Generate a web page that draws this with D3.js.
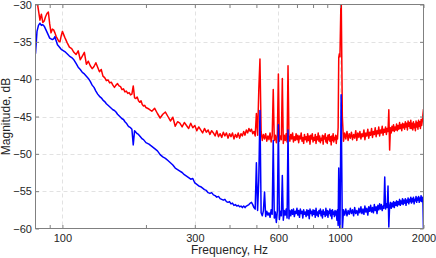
<!DOCTYPE html>
<html>
<head>
<meta charset="utf-8">
<script src="https://cdn.jsdelivr.net/npm/d3@7"></script>
<style>
    body { margin: 0; background: #fff; }
    svg { display: block; font-family: "Liberation Sans", Arial, Helvetica, sans-serif; }
</style>
</head>
<body>
<svg class="chart" width="436" height="258"></svg>
<script>
// frequency bins, Hz
let freqHz = [
    80, 81, 82, 83, 84, 85, 86, 87, 88, 89, 90, 91, 92, 93, 94, 95, 96, 97, 98, 99, 100,
    102, 104, 106, 108, 110, 112, 114, 116, 118, 120, 122, 124, 126, 128, 130, 132, 134, 136, 138, 140,
    142, 144, 146, 148, 150, 152, 154, 156, 158, 160, 162, 164, 166, 168, 170, 172, 174, 176, 178, 180,
    182, 184, 186, 188, 190, 192, 194, 196, 198, 200,
    205, 210, 215, 220, 225, 230, 235, 240, 245, 250, 255, 260, 265, 270, 275, 280, 285, 290, 295, 300,
    305, 310, 315, 320, 325, 330, 335, 340, 345, 350, 355, 360, 365, 370, 375, 380, 385, 390, 395, 400,
    405, 410, 415, 420, 425, 430, 435, 440, 445, 450, 455, 460, 465, 470, 475, 480, 485, 490, 495, 500,
    505, 510, 515, 520, 525, 530, 535, 540, 545, 550, 555, 560, 565, 570, 575, 580, 585, 590, 595, 600,
    605, 610, 615, 620, 625, 630, 635, 640, 645, 650, 655, 660, 665, 670, 675, 680, 685, 690, 695, 700,
    705, 710, 715, 720, 725, 730, 735, 740, 745, 750, 755, 760, 765, 770, 775, 780, 785, 790, 795, 800,
    805, 810, 815, 820, 825, 830, 835, 840, 845, 850, 855, 860, 865, 870, 875, 880, 885, 890, 895, 900,
    905, 910, 915, 920, 925, 930, 935, 940, 945, 950, 955, 960, 965, 970, 975, 980, 985, 990, 995, 1000,
    1010, 1020, 1030, 1040, 1050, 1060, 1070, 1080, 1090, 1100, 1110, 1120, 1130, 1140, 1150, 1160, 1170, 1180, 1190, 1200,
    1210, 1220, 1230, 1240, 1250, 1260, 1270, 1280, 1290, 1300, 1310, 1320, 1330, 1340, 1350, 1360, 1370, 1380, 1390, 1400,
    1410, 1420, 1430, 1440, 1450, 1460, 1470, 1480, 1490, 1500, 1510, 1520, 1530, 1540, 1550, 1560, 1570, 1580, 1590, 1600,
    1610, 1620, 1630, 1640, 1650, 1660, 1670, 1680, 1690, 1700, 1710, 1720, 1730, 1740, 1750, 1760, 1770, 1780, 1790, 1800,
    1810, 1820, 1830, 1840, 1850, 1860, 1870, 1880, 1890, 1900, 1910, 1920, 1930, 1940, 1950, 1960, 1970, 1980, 1990, 2000
];

// red trace, dB
let redDb = [
    -29.2, -29.5, -30.8, -32.1, -31.3, -32.4, -32.2, -31.6, -31.2, -31.0, -32.6, -33.8, -33.3, -33.4, -33.8, -34.3, -34.6, -34.9, -35.0, -34.2, -33.6,
    -34.4, -35.1, -35.7, -35.9, -36.4, -36.7, -36.2, -37.4, -36.9, -36.4,
    -38.0, -37.6, -38.2, -38.6, -38.3, -37.8, -38.4, -39.0, -38.7, -39.6,
    -39.8, -40.2, -40.1, -40.5, -40.4, -40.8, -41.1, -40.8, -40.6, -40.9,
    -41.0, -41.4, -41.3, -41.7, -41.6, -41.9, -41.8, -42.1, -42.0, -40.9,
    -42.5, -42.6, -42.4, -42.9, -43.1, -42.9, -43.4, -43.6, -43.5, -43.8,
    -44.0, -44.3, -43.9, -44.6, -45.2, -44.7, -44.4, -45.0, -45.6, -45.1,
    -46.3, -45.7, -45.9, -46.4, -45.8, -46.2, -46.6, -45.9, -46.5, -46.2,
    -46.9, -46.4, -46.8, -47.2, -46.6, -47.1, -46.8, -47.4, -46.9, -47.2,
    -47.6, -46.9, -47.7, -47.3, -47.8, -47.1, -47.6, -47.2, -47.9, -47.3,
    -47.7, -47.2, -48.0, -47.4, -47.8, -47.2, -47.9, -47.3, -47.6, -47.0,
    -47.5, -46.8, -47.2, -46.6, -47.0, -46.7, -47.3, -47.0, -47.6, -44.6,
    -47.5, -41.5, -37.3, -47.0, -48.2, -47.4, -48.0, -47.3, -48.3, -47.6,
    -48.1, -47.2, -48.4, -47.6, -41.4, -48.2, -47.5, -48.5, -47.4, -39.3,
    -48.3, -47.6, -48.1, -39.9, -48.6, -47.5, -48.2, -47.3, -48.4, -38.2,
    -47.6, -48.3, -47.4, -48.0, -47.2, -48.4, -47.7, -48.2, -47.3, -48.1,
    -47.5, -48.5, -47.6, -48.0, -47.2, -48.3, -47.8, -48.6, -47.4, -48.1,
    -47.7, -48.4, -47.3, -48.2, -47.6, -48.7, -47.5, -48.0, -47.3, -48.4,
    -47.8, -48.2, -47.4, -48.6, -47.7, -48.1, -47.2, -48.3, -47.6, -48.5,
    -47.9, -48.2, -47.5, -48.7, -47.6, -48.0, -47.3, -48.4, -47.8, -48.6,
    -47.5, -48.1, -47.4, -48.3, -47.7, -48.8, -47.6, -48.2, -47.3, -48.4,
    -47.8, -48.1, -47.5, -48.6, -47.6, -48.0, -46.5, -37.1, -36.6, -37.0,
    -28.0, -45.0, -48.3, -47.2, -48.0, -47.0, -48.2, -47.3, -47.9, -47.1,
    -48.1, -47.4, -47.9, -46.9, -48.2, -47.2, -47.8, -47.0, -48.0, -47.3,
    -47.7, -46.8, -48.1, -47.2, -47.6, -46.7, -47.9, -47.1, -47.5, -46.6,
    -47.8, -47.0, -47.4, -46.5, -47.7, -46.9, -47.3, -46.4, -47.6, -46.8,
    -47.2, -46.3, -47.5, -46.7, -47.1, -46.4, -47.4, -46.6, -47.0, -44.1,
    -49.5, -46.5, -47.2, -46.3, -46.9, -46.1, -47.0, -46.4, -46.8, -46.0,
    -46.9, -46.2, -46.7, -45.8, -46.6, -46.1, -46.9, -45.9, -46.5, -46.0,
    -46.7, -45.7, -46.4, -45.9, -46.8, -45.6, -46.3, -45.8, -46.6, -45.5,
    -46.6, -45.9, -46.8, -45.7, -46.5, -46.0, -46.9, -45.6, -46.4, -45.8,
    -46.7, -45.5, -46.3, -45.7, -46.6, -45.4, -46.2, -45.6, -44.8, -44.0
];

// blue trace, dB
let blueDb = [
    -36.6, -33.6, -32.8, -32.5, -32.8, -32.7, -32.9, -33.3, -33.7, -34.1, -34.5, -34.6, -34.7, -34.6, -34.3, -34.9, -35.4, -35.6, -35.8, -36.0, -36.1,
    -36.3, -36.6, -36.9, -37.1, -37.4, -37.9, -38.4, -38.7, -39.1, -39.3,
    -39.6, -39.9, -40.3, -40.8, -41.1, -41.6, -42.0, -42.3, -42.5, -42.8,
    -43.0, -43.3, -43.5, -43.7, -43.9, -44.1, -44.2, -44.4, -44.7, -44.9,
    -45.1, -45.3, -45.4, -45.7, -45.9, -46.2, -46.4, -46.5, -46.7, -48.8,
    -46.9, -47.1, -47.3, -47.4, -47.6, -47.8, -48.0, -48.1, -48.3, -48.5,
    -48.7, -49.0, -49.3, -49.6, -50.1, -50.4, -50.6, -50.9, -51.2, -51.5,
    -51.9, -52.1, -52.3, -52.5, -52.8, -53.0, -53.2, -53.4, -53.3, -53.9,
    -54.1, -54.3, -54.4, -54.6, -54.8, -54.9, -55.2, -55.3, -55.2, -55.5,
    -55.6, -55.8, -55.7, -56.0, -56.1, -56.2, -56.1, -56.4, -56.5, -56.4,
    -56.7, -56.6, -56.9, -56.8, -57.0, -56.9, -57.1, -57.0, -57.2, -57.0,
    -57.2, -57.0, -56.9, -56.8, -56.6, -56.5, -56.8, -57.2, -57.4, -51.2,
    -57.6, -53.5, -44.2, -57.9, -58.3, -57.6, -55.1, -58.4, -57.7, -58.2,
    -57.9, -58.5, -57.5, -58.1, -48.2, -58.6, -57.8, -59.2, -57.6, -46.1,
    -58.8, -57.7, -58.3, -52.9, -58.9, -57.6, -58.2, -57.4, -58.6, -46.8,
    -58.7, -57.6, -58.3, -57.5, -58.1, -57.4, -58.4, -57.7, -58.0, -57.3,
    -58.2, -57.6, -58.5, -57.4, -58.0, -57.7, -58.6, -57.5, -58.1, -57.8,
    -58.4, -57.5, -58.2, -57.6, -58.7, -57.4, -58.0, -57.7, -58.3, -57.5,
    -58.1, -57.6, -58.5, -57.3, -58.2, -57.8, -58.4, -57.6, -58.0, -57.4,
    -58.3, -57.7, -58.6, -57.5, -58.1, -57.8, -58.4, -57.3, -58.2, -57.6,
    -58.5, -57.7, -58.0, -57.4, -58.3, -57.6, -58.7, -57.5, -58.1, -57.8,
    -58.4, -57.6, -58.2, -57.7, -58.9, -57.5, -59.6, -51.9, -58.0, -60.5,
    -42.1, -60.3, -57.5, -58.2, -57.4, -58.3, -57.6, -58.1, -57.3, -58.0,
    -57.5, -58.3, -57.2, -58.0, -57.6, -58.2, -57.3, -57.9, -57.1, -58.0,
    -57.4, -58.1, -57.0, -57.8, -57.3, -58.2, -57.1, -57.7, -56.9, -57.8,
    -57.2, -57.9, -56.8, -57.6, -57.1, -58.0, -56.9, -57.5, -56.7, -57.4,
    -56.8, -57.6, -57.0, -57.3, -53.1, -57.4, -56.7, -57.2, -54.3, -59.8,
    -57.0, -56.5, -57.3, -56.6, -57.1, -56.4, -57.2, -56.5, -56.9, -56.3,
    -57.0, -56.4, -56.8, -56.1, -56.9, -56.3, -56.7, -56.0, -56.8, -56.2,
    -56.6, -56.0, -56.9, -56.2, -56.5, -55.9, -56.7, -56.1, -56.4, -55.8,
    -56.6, -56.0, -56.4, -55.8, -56.7, -56.1, -56.3, -55.7, -56.5, -55.9,
    -56.2, -55.7, -56.5, -55.9, -56.3, -55.6, -56.4, -55.8, -56.2, -60.5
];

let xTickValues = [100, 300, 600, 1000, 2000];
let xMinorTicks = [90, 200, 400, 500, 700, 800, 900];
let yTickValues = [-60, -55, -50, -45, -40, -35, -30];

let plotLeft = 35.5, plotRight = 423.5, plotTop = 4.5, plotBottom = 228.5;
let tickLen = 3.5;

let x = d3.scaleLog().domain([80, 2000]).range([plotLeft, plotRight]);
let y = d3.scaleLinear().domain([-60, -30]).range([plotBottom, plotTop]);

let svg = d3.select(".chart");

svg.append("defs").append("clipPath").attr("id", "plotClip")
    .append("rect")
    .attr("x", plotLeft).attr("y", plotTop)
    .attr("width", plotRight - plotLeft).attr("height", plotBottom - plotTop);

drawGrid();
drawSeries(redDb, "#ff0000");
drawSeries(blueDb, "#0000ff");
drawAxes();

function drawGrid() {
    let g = svg.append("g").attr("class", "grid")
        .style("stroke", "#e2e2e2")
        .style("stroke-dasharray", "4,3")
        .style("stroke-width", 1);
    g.selectAll("line.vx")
        .data(xTickValues.filter(d => d < 2000))
        .enter()
        .append("line")
        .attr("x1", d => Math.round(x(d)) + 0.5).attr("x2", d => Math.round(x(d)) + 0.5)
        .attr("y1", plotTop).attr("y2", plotBottom);
    g.selectAll("line.hy")
        .data(yTickValues.filter(d => d > -60 && d < -30))
        .enter()
        .append("line")
        .attr("x1", plotLeft).attr("x2", plotRight)
        .attr("y1", d => Math.round(y(d)) + 0.5).attr("y2", d => Math.round(y(d)) + 0.5);
}

function drawSeries(values, color) {
    let points = freqHz.map((f, i) => [f, values[i]]);
    let line = d3.line().x(d => x(d[0])).y(d => y(d[1]));
    svg.append("path")
        .datum(points)
        .attr("clip-path", "url(#plotClip)")
        .attr("d", line)
        .style("fill", "none")
        .style("stroke", color)
        .style("stroke-width", 1.5)
        .style("stroke-linejoin", "round");
}

function styleAxis(g) {
    g.select(".domain").remove();
    g.selectAll("line").style("stroke", "#808080");
    g.selectAll("text")
        .style("font-family", "\"Liberation Sans\", Arial, sans-serif")
        .style("font-size", "11px")
        .style("fill", "#262626");
}

function drawAxes() {
    let allX = xTickValues.concat(xMinorTicks);

    svg.append("g")
        .attr("transform", `translate(0,${plotBottom})`)
        .call(d3.axisBottom(x).tickValues(allX).tickSizeInner(-tickLen).tickSizeOuter(0).tickPadding(5.5)
            .tickFormat(d => xTickValues.includes(d) ? d3.format("d")(d) : ""))
        .call(styleAxis);

    svg.append("g")
        .attr("transform", `translate(0,${plotTop})`)
        .call(d3.axisTop(x).tickValues(allX).tickSizeInner(-tickLen).tickSizeOuter(0).tickFormat(""))
        .call(styleAxis);

    svg.append("g")
        .attr("transform", `translate(${plotLeft},0)`)
        .call(d3.axisLeft(y).tickValues(yTickValues).tickSizeInner(-tickLen).tickSizeOuter(0).tickPadding(3.5)
            .tickFormat(d3.format("d")))
        .call(styleAxis);

    svg.append("g")
        .attr("transform", `translate(${plotRight},0)`)
        .call(d3.axisRight(y).tickValues(yTickValues).tickSizeInner(-tickLen).tickSizeOuter(0).tickFormat(""))
        .call(styleAxis);

    svg.append("rect")
        .attr("x", plotLeft).attr("y", plotTop)
        .attr("width", plotRight - plotLeft).attr("height", plotBottom - plotTop)
        .style("fill", "none")
        .style("stroke", "#808080")
        .style("stroke-width", 1);

    svg.append("text")
        .attr("x", (plotLeft + plotRight) / 2)
        .attr("y", 253.5)
        .attr("text-anchor", "middle")
        .style("font-size", "12px")
        .style("fill", "#262626")
        .text("Frequency, Hz");

    svg.append("text")
        .attr("transform", `translate(9.5,${(plotTop + plotBottom) / 2}) rotate(-90)`)
        .attr("text-anchor", "middle")
        .style("font-size", "12px")
        .style("fill", "#262626")
        .text("Magnitude, dB");
}
</script>
</body>
</html>
